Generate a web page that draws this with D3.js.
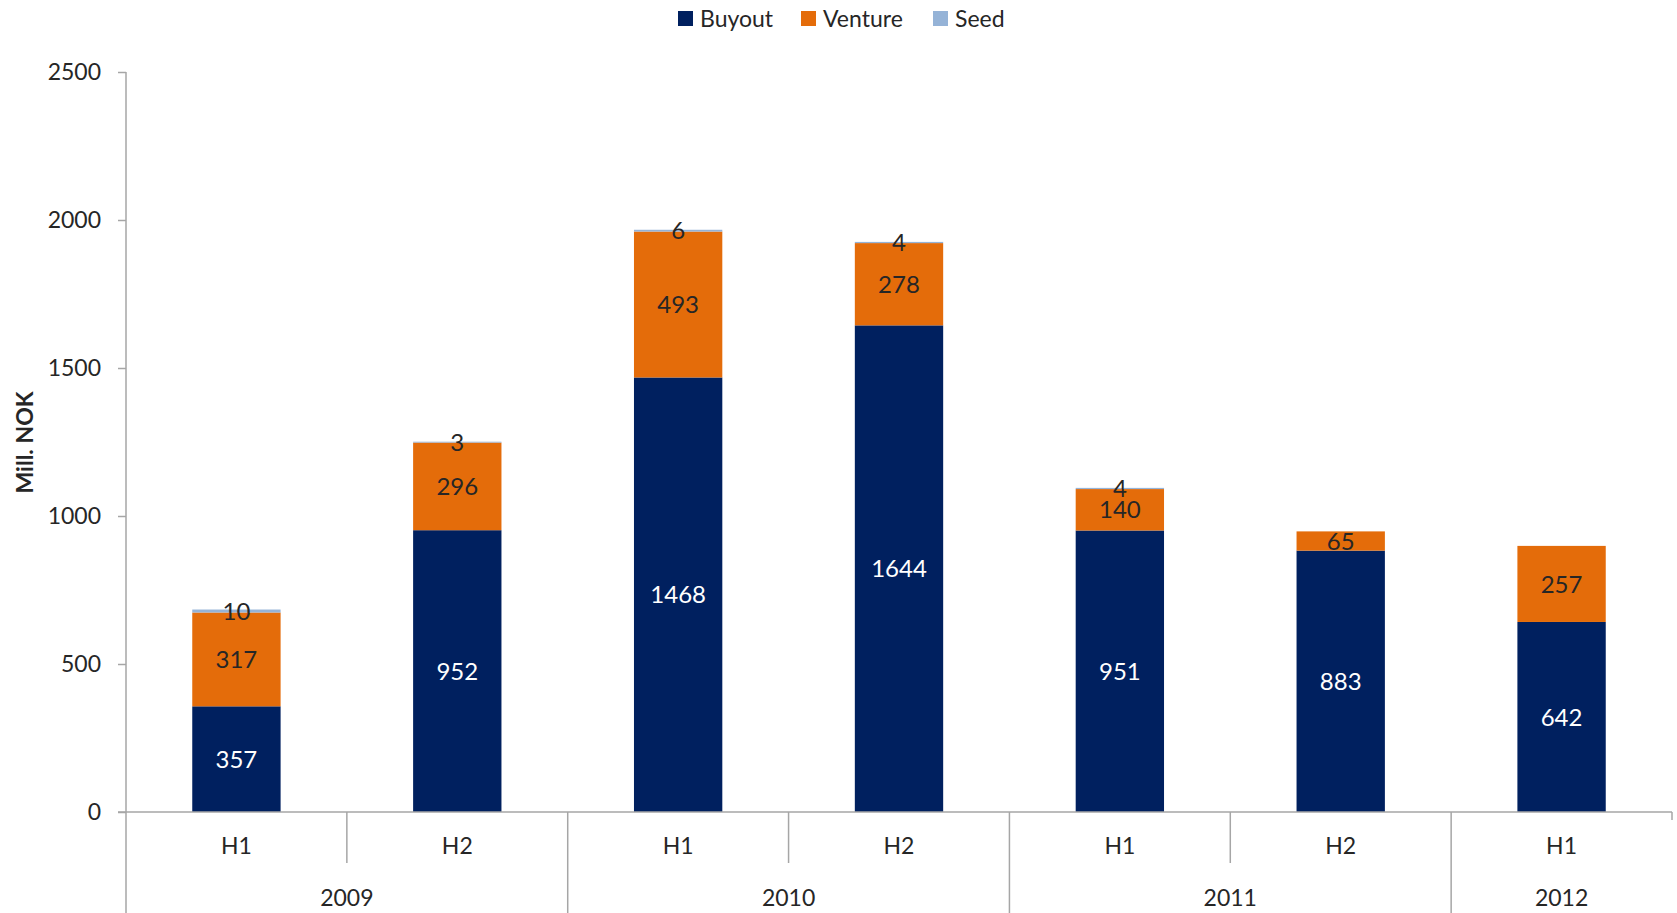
<!DOCTYPE html>
<html><head><meta charset="utf-8">
<script src="https://cdn.jsdelivr.net/npm/d3@7"></script>
<style>
html,body{margin:0;padding:0;background:#fff;}
svg{display:block;}
</style></head>
<body>
<svg id="chart" width="1677" height="913"></svg>
<script>
const periods = ["H1","H2","H1","H2","H1","H2","H1"];
const years = ["2009","2009","2010","2010","2011","2011","2012"];
const buyout = [357,952,1468,1644,951,883,642];
const venture = [317,296,493,278,140,65,257];
const seed = [10,3,6,4,4,0,0];
const yTicks = [0,500,1000,1500,2000,2500];
const seriesNames = ["Buyout","Venture","Seed"];
const colors = ["#00205F","#E46C0A","#95B3D7"];
const labelColors = ["#ffffff","#262626","#262626"];

(function(){
const svg = d3.select("#chart");
const W = 1677, H = 913;
const pLeft = 126, pRight = 1672, pTop = 72, pBottom = 812;
const keys = periods.map((p,i)=>years[i]+"-"+p);
const rows = keys.map((k,i)=>({key:k, Buyout:buyout[i], Venture:venture[i], Seed:seed[i]}));

const x = d3.scaleBand().domain(keys).range([pLeft,pRight]).paddingInner(0.6).paddingOuter(0.3);
const y = d3.scaleLinear().domain([0,2500]).range([pBottom,pTop]);
const stack = d3.stack().keys(seriesNames)(rows);

const axisColor = "#a6a6a6";
const font = "Lato, 'Open Sans', sans-serif";

const g = svg.append("g");
stack.forEach((layer,si)=>{
  g.append("g").selectAll("rect").data(layer).enter().append("rect")
    .attr("x", d=>x(d.data.key))
    .attr("width", x.bandwidth())
    .attr("y", d=>y(d[1]))
    .attr("height", d=>Math.max(0, y(d[0])-y(d[1])))
    .attr("fill", colors[si]);
});
stack.forEach((layer,si)=>{
  g.append("g").selectAll("text").data(layer.filter(d=>d[1]-d[0]>0)).enter().append("text")
    .attr("x", d=>x(d.data.key)+x.bandwidth()/2)
    .attr("y", d=>y((d[0]+d[1])/2))
    .attr("dy","0.36em")
    .attr("text-anchor","middle")
    .attr("font-family",font)
    .attr("font-size","24px")
    .attr("fill", labelColors[si])
    .text(d=>d[1]-d[0]);
});

const yAxis = d3.axisLeft(y).tickValues(yTicks).tickFormat(d3.format("d")).tickSize(8).tickPadding(17);
const ya = svg.append("g").attr("transform",`translate(${pLeft},0)`).call(yAxis);
ya.select(".domain").remove();
ya.selectAll(".tick line").attr("stroke",axisColor).attr("stroke-width",1.5);
ya.selectAll(".tick text").attr("font-family",font).attr("font-size","23px").attr("fill","#262626");
svg.append("line").attr("x1",pLeft).attr("x2",pLeft).attr("y1",pTop).attr("y2",H).attr("stroke",axisColor).attr("stroke-width",1.5);
svg.append("line").attr("x1",pLeft-8).attr("x2",pRight).attr("y1",pBottom).attr("y2",pBottom).attr("stroke",axisColor).attr("stroke-width",1.5);

const step = x.step();
const boundary = i => x(keys[i]) - step*x.paddingInner()/2;
for(let i=1;i<=keys.length;i++){
  const bx = i<keys.length ? boundary(i) : pRight;
  const yearEnd = i===keys.length || years[i]!==years[i-1];
  let y2 = yearEnd ? H : 863;
  if(i===keys.length) y2 = pBottom+8;
  svg.append("line").attr("x1",bx).attr("x2",bx).attr("y1",pBottom).attr("y2",y2).attr("stroke",axisColor).attr("stroke-width",1.5);
}
svg.append("g").selectAll("text").data(keys).enter().append("text")
  .attr("x", d=>x(d)+x.bandwidth()/2)
  .attr("y", 846).attr("dy","0.36em")
  .attr("text-anchor","middle")
  .attr("font-family",font).attr("font-size","23px").attr("fill","#262626")
  .text((d,i)=>periods[i]);
const uniqYears = Array.from(new Set(years));
svg.append("g").selectAll("text").data(uniqYears).enter().append("text")
  .attr("x", yr=>{
    const idx = keys.map((k,i)=>i).filter(i=>years[i]===yr);
    const x0 = x(keys[idx[0]]) - step*x.paddingInner()/2;
    const x1 = x(keys[idx[idx.length-1]]) + x.bandwidth() + step*x.paddingInner()/2;
    return (x0+x1)/2;
  })
  .attr("y", 898).attr("dy","0.36em")
  .attr("text-anchor","middle")
  .attr("font-family",font).attr("font-size","23px").attr("fill","#262626")
  .text(d=>d);

svg.append("text").attr("transform","translate(33,442.5) rotate(-90)")
  .attr("text-anchor","middle")
  .attr("font-family",font)
  .attr("font-weight","bold").attr("font-size","23px").attr("fill","#262626")
  .text("Mill. NOK");

const legendX = [678, 801, 933];
const lg = svg.append("g");
seriesNames.forEach((n,i)=>{
  lg.append("rect").attr("x",legendX[i]).attr("y",11).attr("width",15).attr("height",15).attr("fill",colors[i]);
  lg.append("text").attr("x",legendX[i]+22).attr("y",18.5).attr("dy","0.36em")
    .attr("font-family",font).attr("font-size","23px").attr("fill","#262626").text(n);
});
})();
</script>
</body></html>
